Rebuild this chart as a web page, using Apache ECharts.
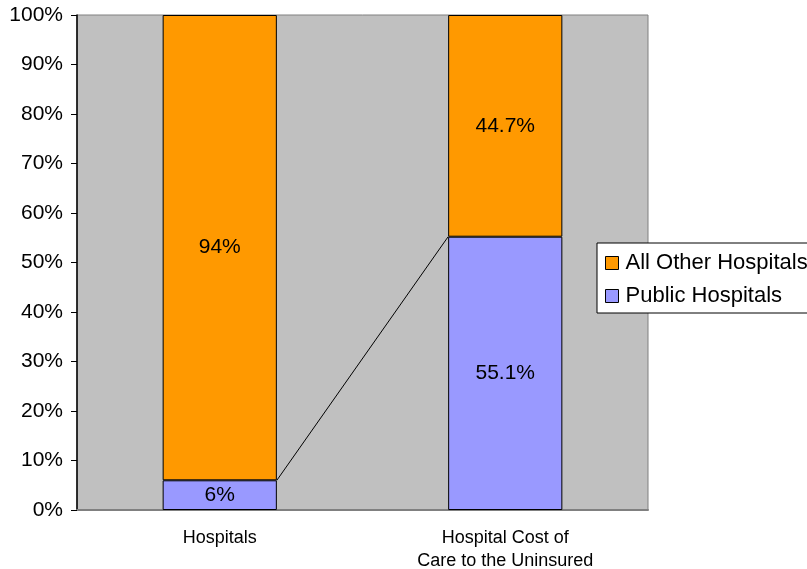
<!DOCTYPE html>
<html>
<head>
<meta charset="utf-8">
<script src="https://cdn.jsdelivr.net/npm/echarts@6/dist/echarts.min.js"></script>
<style>
  html, body { margin: 0; padding: 0; background: #fff; }
  #chart { width: 807px; height: 569px; }
</style>
</head>
<body>
<div id="chart"></div>
<script>
// categories and shares (percent)
const categories = ['Hospitals', 'Hospital Cost of\nCare to the Uninsured']
const publicShare = [6, 55.1]
const otherShare = [94, 44.7]
const yTicks = [0, 10, 20, 30, 40, 50, 60, 70, 80, 90, 100]

// stacked to 100% like the original chart
const totals = publicShare.map((v, i) => v + otherShare[i])
const publicPct = publicShare.map((v, i) => v / totals[i] * 100)
const otherPct = otherShare.map((v, i) => v / totals[i] * 100)

const barFrac = 0.4
const chart = echarts.init(document.getElementById('chart'))

const labelStyle = {
  show: true,
  position: 'inside',
  color: '#000',
  fontSize: 21,
  fontFamily: 'Liberation Sans, Arial, sans-serif'
}

const option = {
  animation: false,
  textStyle: { fontFamily: 'Liberation Sans, Arial, sans-serif' },
  grid: {
    left: 77, top: 15, right: 159, bottom: 59,
    outerBoundsMode: 'none',
    containLabel: false,
    show: true,
    backgroundColor: '#C0C0C0',
    borderColor: '#808080',
    borderWidth: 1
  },
  legend: {
    orient: 'vertical',
    left: 597,
    top: 243,
    data: ['All Other Hospitals', 'Public Hospitals'],
    backgroundColor: '#fff',
    borderColor: '#000',
    borderWidth: 1,
    padding: [9, 4, 6, 8],
    itemWidth: 13,
    itemHeight: 13,
    itemGap: 11,
    icon: 'rect',
    itemStyle: { borderColor: '#000', borderWidth: 1 },
    textStyle: { fontSize: 22, color: '#000', padding: [0, 0, 0, 2] }
  },
  xAxis: [
    {
      type: 'category',
      data: categories,
      axisLine: { lineStyle: { color: '#808080', width: 2 } },
      axisTick: { show: false },
      axisLabel: { fontSize: 18, color: '#000', margin: 17, lineHeight: 23 }
    },
    {
      type: 'value',
      min: 0,
      max: categories.length,
      show: false
    }
  ],
  yAxis: {
    type: 'value',
    min: yTicks[0],
    max: yTicks[yTicks.length - 1],
    interval: 10,
    axisLine: { show: true, lineStyle: { color: '#000', width: 1.5 } },
    axisTick: { show: true, length: 6, lineStyle: { color: '#000' } },
    splitLine: { show: false },
    axisLabel: { formatter: '{value}%', fontSize: 21, color: '#000', margin: 14 }
  },
  series: [
    {
      name: 'Public Hospitals',
      type: 'bar',
      stack: 'total',
      barWidth: (barFrac * 100) + '%',
      data: publicPct,
      itemStyle: { color: '#9999FF', borderColor: '#000', borderWidth: 1 },
      label: Object.assign({}, labelStyle, {
        formatter: p => publicShare[p.dataIndex] + '%'
      })
    },
    {
      name: 'All Other Hospitals',
      type: 'bar',
      stack: 'total',
      data: otherPct,
      itemStyle: { color: '#FF9900', borderColor: '#000', borderWidth: 1 },
      label: Object.assign({}, labelStyle, {
        formatter: p => otherShare[p.dataIndex] + '%'
      })
    },
    {
      // series line joining the tops of the public segments
      name: 'series line',
      type: 'line',
      xAxisIndex: 1,
      symbol: 'none',
      silent: true,
      lineStyle: { color: '#000', width: 1 },
      data: [
        [0.5 + barFrac / 2, publicPct[0]],
        [1.5 - barFrac / 2, publicPct[1]]
      ]
    }
  ]
}

chart.setOption(option)
</script>
</body>
</html>
